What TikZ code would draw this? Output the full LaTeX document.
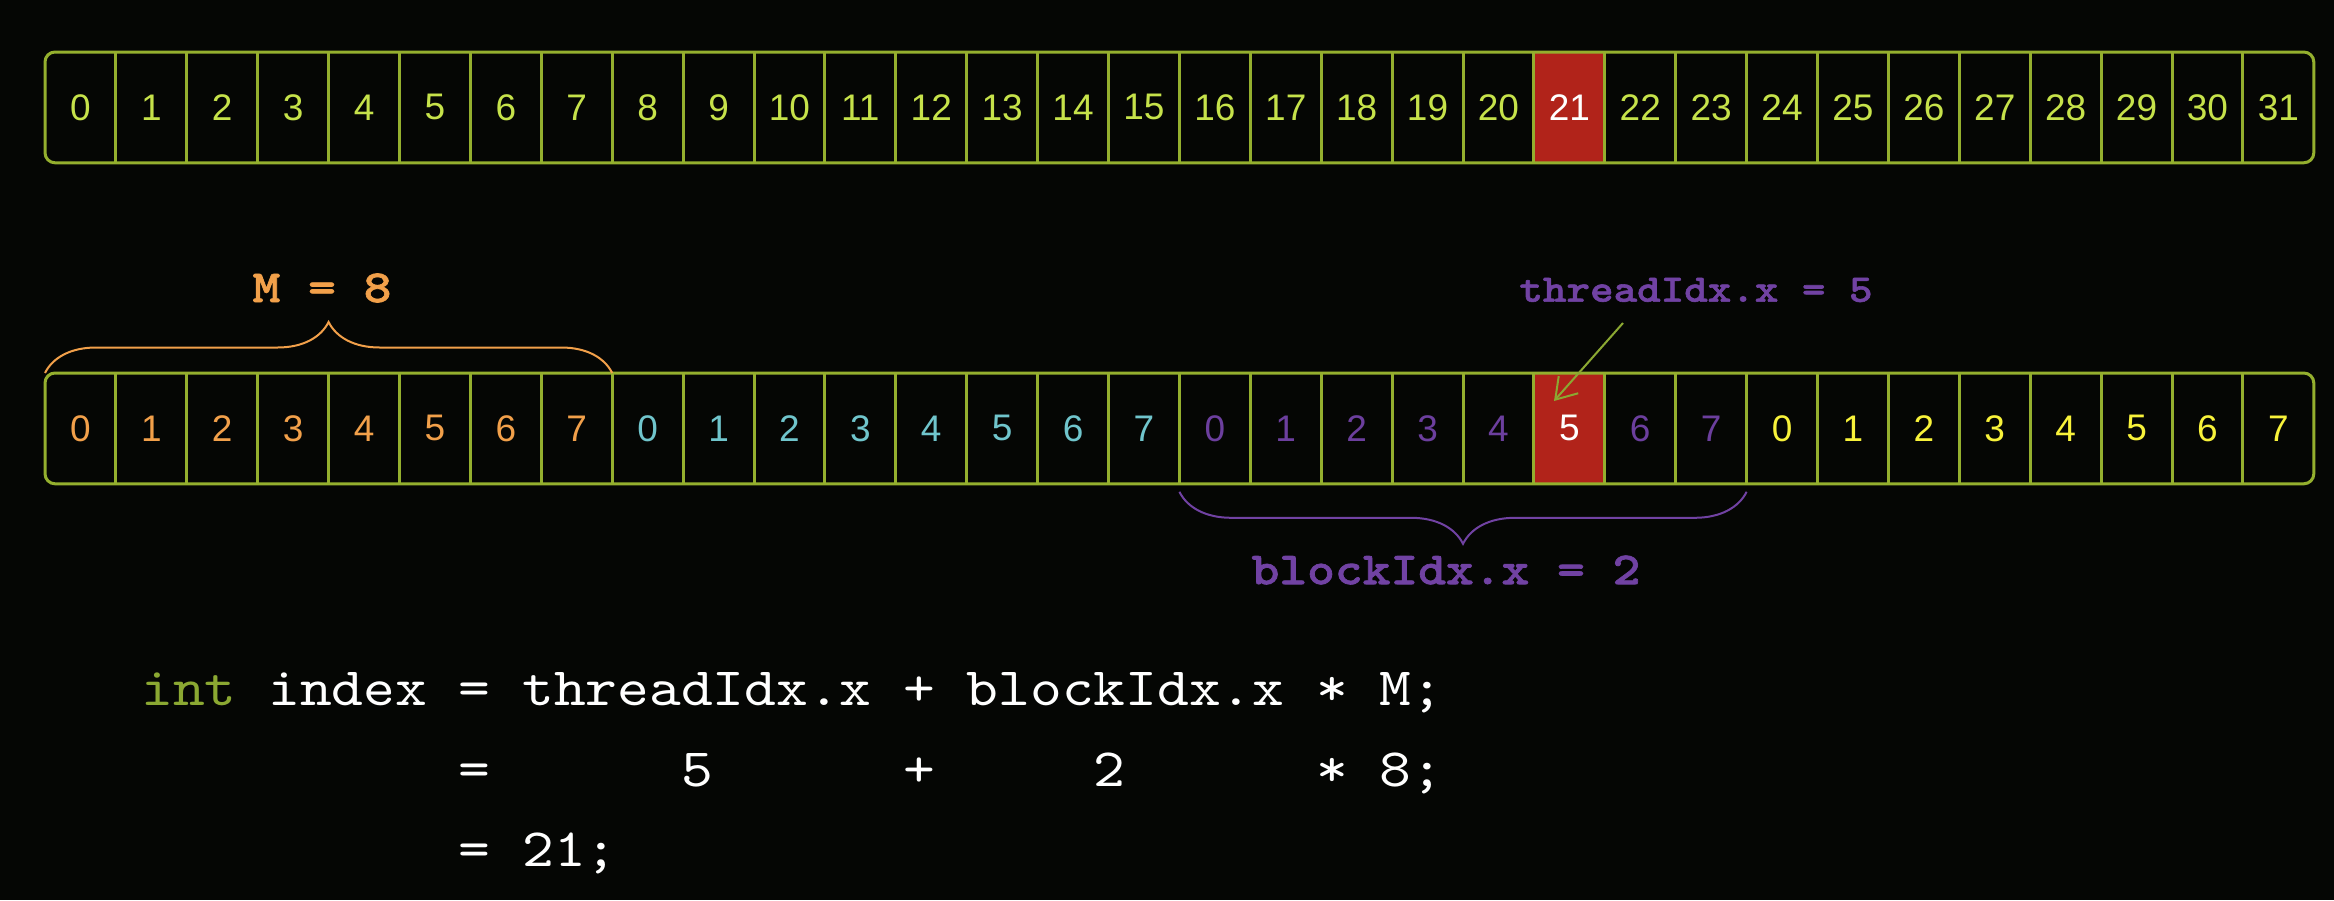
\documentclass[tikz,border=0pt]{standalone}
\usepackage{xcolor}
\usepackage{fontspec}
\setmainfont{Liberation Sans}
\setmonofont{lmmono10-regular}[Extension=.otf, FakeStretch=1.12]
\newfontfamily\labelfont{lmmonolt10-bold}[Extension=.otf, FakeStretch=1.15, FakeBold=1.5]
\usepackage{tikz}
\usetikzlibrary{shapes,arrows,arrows.meta,positioning,fit,calc,decorations.pathreplacing}

\definecolor{bgdark}{HTML}{050604}
\definecolor{cellline}{HTML}{94AF2E}
\definecolor{lime}{HTML}{C6E24A}
\definecolor{hotred}{HTML}{B1231A}
\definecolor{blk0}{HTML}{F2A04A}
\definecolor{blk1}{HTML}{70C5CC}
\definecolor{blk2}{HTML}{6C3F9E}
\definecolor{blk3}{HTML}{F8F23A}
\definecolor{idxpurple}{HTML}{7142A3}
\definecolor{intgreen}{HTML}{8BA832}

\begin{document}
\begin{tikzpicture}[x=0.5pt, y=-0.5pt, node distance=0pt,
    cell/.style={rectangle, minimum width=35.05pt, minimum height=55pt, inner sep=0pt, font=\fontsize{18.5}{22}\selectfont},
    hot/.style={fill=hotred, text=white},
    frame/.style={draw=cellline, line width=1.5pt},
    brace/.style={decorate, line width=1pt},
    idxlabel/.style={font=\labelfont\fontsize{23}{26}\selectfont, text=idxpurple},
    code/.style={font=\ttfamily\fontsize{27}{30}\selectfont, text=white, inner sep=0pt, anchor=base west},
    pointer/.style={-{Straight Barb[length=10pt, width=13pt]}, draw=intgreen, line width=1pt}]
    \useasboundingbox (0,0) rectangle (2334,900);
    \fill[bgdark] (0,0) rectangle (2334,900);

    % global index row
    \node (t0) [cell, text=lime, anchor=north west] at (45,52) {0};
    \foreach \i [remember=\i as \j (initially 0)] in {1,...,31} {
        \ifnum\i=21
            \node (t\i) [cell, hot, right=of t\j] {\i};
        \else
            \node (t\i) [cell, text=lime, right=of t\j] {\i};
        \fi
    }
    \draw [frame, rounded corners=5pt] (t0.north west) rectangle (t31.south east);
    \foreach \i in {1,...,31}
        \draw [frame] (t\i.north west) -- (t\i.south west);

    % thread index row, one colour per block
    \node (b0) [cell, text=blk0, anchor=north west] at (45,373) {0};
    \foreach \i [remember=\i as \j (initially 0)] in {1,...,31} {
        \pgfmathtruncatemacro\blk{int(\i/8)}
        \pgfmathtruncatemacro\tid{mod(\i,8)}
        \ifnum\i=21
            \node (b\i) [cell, hot, right=of b\j] {\tid};
        \else
            \node (b\i) [cell, text=blk\blk, right=of b\j] {\tid};
        \fi
    }
    \draw [frame, rounded corners=5pt] (b0.north west) rectangle (b31.south east);
    \foreach \i in {1,...,31}
        \draw [frame] (b\i.north west) -- (b\i.south west);

    % braces and labels
    \draw [brace, draw=blk0, decoration={brace, amplitude=25.5pt}] (b0.north west) -- (b7.north east);
    \node (msize) [idxlabel, text=blk0] at (322,288) {M = 8};
    \draw [brace, draw=idxpurple, decoration={brace, amplitude=26pt}] ([yshift=-4pt]b23.south east) -- ([yshift=-4pt]b16.south west);
    \node (bidx) [idxlabel] at (1446,570) {blockIdx.x = 2};
    \node (tidx) [idxlabel, font=\labelfont\fontsize{19.5}{22}\selectfont] at (1696,290) {threadIdx.x = 5};
    \coordinate (tail) at (1623,323);
    \coordinate (tip) at (1554,401);
    \draw [pointer] (tail) -- (tip);

    % the index computation
    \node (line1) [code] at (141,705) {{\color{intgreen}int} index = threadIdx.x + blockIdx.x * M;};
    \node (line2) [code] at (141,786) {\hphantom{0000000000}=\hphantom{000000}5\hphantom{000000}+\hphantom{00000}2\hphantom{000000}*\hphantom{0}8;};
    \node (line3) [code] at (141,866) {\hphantom{0000000000}= 21;};
\end{tikzpicture}
\end{document}
